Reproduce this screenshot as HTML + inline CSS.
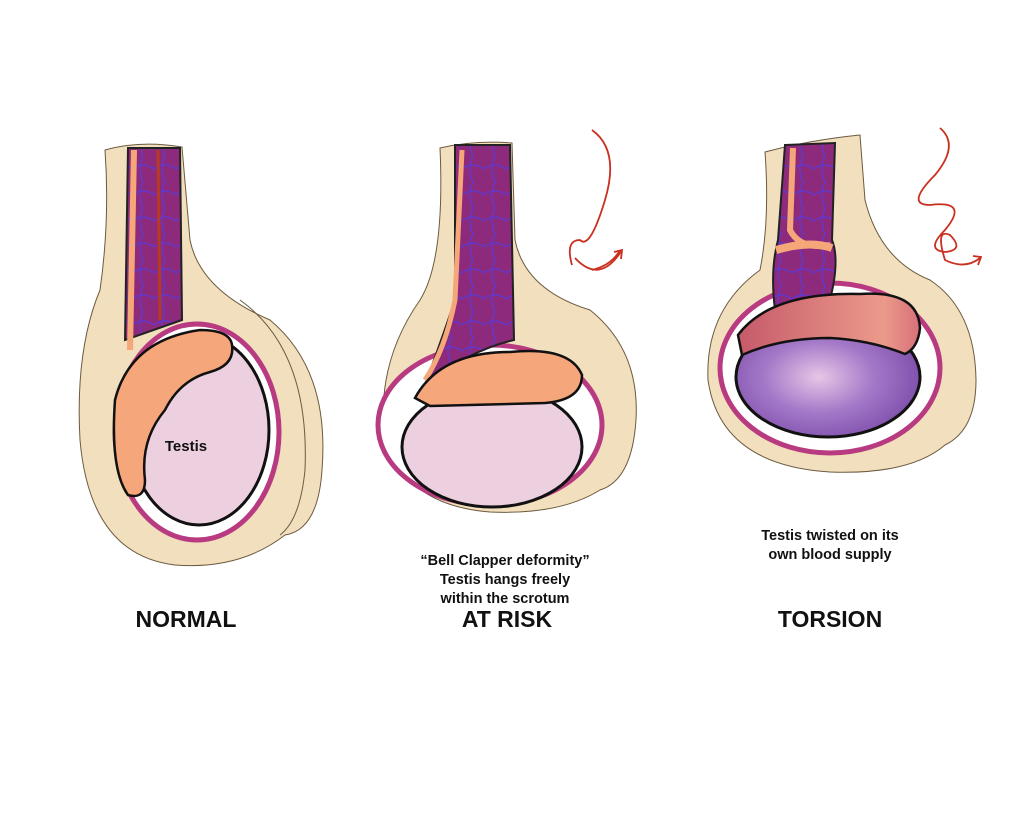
<!DOCTYPE html>
<html><head><meta charset="utf-8"><style>
html,body{margin:0;padding:0;background:#fff;}
svg{display:block}
text{font-family:"Liberation Sans",sans-serif;font-weight:bold;fill:#111}
</style></head><body>
<svg width="1024" height="814" viewBox="0 0 1024 814" xmlns="http://www.w3.org/2000/svg">
<defs>
<radialGradient id="pg" cx="0.45" cy="0.5" r="0.6">
<stop offset="0" stop-color="#e6c6e6"/><stop offset="0.5" stop-color="#a378c8"/><stop offset="1" stop-color="#7a4aa8"/></radialGradient>
<linearGradient id="rg" x1="0" x2="1"><stop offset="0" stop-color="#c65a6a"/><stop offset="0.8" stop-color="#eb9a8a"/><stop offset="1" stop-color="#d7707a"/></linearGradient>
<pattern id="vein" width="22" height="26" patternUnits="userSpaceOnUse">
<rect width="22" height="26" fill="#8e2a7c"/>
<path d="M0,13 Q11,5 22,13 M11,0 Q5,13 11,26" stroke="#5a3ad8" stroke-width="1.2" fill="none"/></pattern>
</defs>

<!-- NORMAL -->
<path d="M105,150 Q140,140 182,147 L190,240 Q200,290 270,320 Q330,370 322,470 Q318,530 285,535 Q240,570 175,565 Q90,555 80,440 Q75,350 100,290 Q110,220 105,150 Z" fill="#f2dfbd" stroke="#6b5a40" stroke-width="1"/>
<path d="M240,300 Q310,350 305,470 Q300,520 280,535" fill="none" stroke="#6b5a40" stroke-width="1"/>
<ellipse cx="197" cy="432" rx="82" ry="108" fill="#fff" stroke="#b83a80" stroke-width="5"/>
<path d="M128,148 L180,148 L182,320 L125,340 Z" fill="url(#vein)" stroke="#222" stroke-width="2"/>
<path d="M134,150 L130,350" stroke="#f5a77a" stroke-width="6"/>
<path d="M158,150 L160,320" stroke="#b83a20" stroke-width="3"/>
<ellipse cx="199" cy="430" rx="70" ry="95" fill="#ecd0e0" stroke="#111" stroke-width="3"/>
<path d="M128,495 Q110,470 115,400 Q130,340 200,330 Q230,330 232,345 Q235,365 210,372 Q180,380 165,410 Q140,440 145,480 Q145,500 128,495 Z" fill="#f5a67a" stroke="#111" stroke-width="2.5"/>
<text x="186" y="451" font-size="15" text-anchor="middle">Testis</text>

<!-- AT RISK -->
<path d="M440,148 Q475,140 512,143 L515,240 Q525,290 590,310 Q640,350 636,420 Q632,480 600,490 Q560,515 490,512 Q400,505 384,430 Q378,360 420,300 Q445,260 440,148 Z" fill="#f2dfbd" stroke="#6b5a40" stroke-width="1"/>
<ellipse cx="490" cy="425" rx="112" ry="80" fill="#fff" stroke="#b83a80" stroke-width="5"/>
<path d="M455,145 L510,145 L514,340 Q470,350 425,385 Q445,330 455,300 Z" fill="url(#vein)" stroke="#222" stroke-width="2"/>
<path d="M462,150 L455,300 Q445,350 425,380" stroke="#f5a77a" stroke-width="5" fill="none"/>
<ellipse cx="492" cy="447" rx="90" ry="60" fill="#ecd0e0" stroke="#111" stroke-width="3"/>
<path d="M415,398 Q440,352 510,352 Q570,346 582,375 Q582,400 545,403 L430,406 Z" fill="#f5a67a" stroke="#111" stroke-width="2.5"/>

<!-- TORSION -->
<path d="M765,152 Q810,140 860,135 L865,200 Q880,260 930,280 Q975,310 976,380 Q976,430 945,445 Q910,475 830,472 Q720,465 708,380 Q705,310 760,270 Q770,220 765,152 Z" fill="#f2dfbd" stroke="#6b5a40" stroke-width="1"/>
<ellipse cx="830" cy="368" rx="110" ry="85" fill="#fff" stroke="#b83a80" stroke-width="5"/>
<path d="M785,145 L835,143 L832,240 Q840,260 830,300 L775,310 Q770,270 778,240 Z" fill="url(#vein)" stroke="#222" stroke-width="2"/>
<path d="M793,148 L790,230 Q800,250 830,245" stroke="#f5a77a" stroke-width="6" fill="none"/>
<path d="M776,250 Q810,240 832,248" stroke="#f5a77a" stroke-width="8" fill="none"/>
<ellipse cx="828" cy="377" rx="92" ry="60" fill="url(#pg)" stroke="#111" stroke-width="3"/>
<path d="M738,335 Q770,292 860,294 Q918,290 920,328 Q918,348 905,354 Q870,340 830,338 Q780,338 742,355 Z" fill="url(#rg)" stroke="#111" stroke-width="2.5"/>

<!-- arrows -->
<g fill="none" stroke="#c93020" stroke-width="1.8">
<path d="M592,130 Q620,150 605,200 Q590,250 580,240 Q565,240 572,265 M592,270 Q612,265 620,250"/>
<path d="M575,258 Q600,285 622,250"/><path d="M614,252 L622,250 L621,259"/>
<path d="M940,128 Q960,145 935,175 Q905,205 930,205 Q970,200 945,230 Q925,250 945,252 Q965,250 950,235 Q935,228 945,260 Q965,270 980,258"/>
<path d="M973,256 L981,257 L978,265"/>
</g>

<text x="505" y="565" font-size="14.5" text-anchor="middle">“Bell Clapper deformity”</text>
<text x="505" y="584" font-size="14.5" text-anchor="middle">Testis hangs freely</text>
<text x="505" y="603" font-size="14.5" text-anchor="middle">within the scrotum</text>
<text x="830" y="540" font-size="14.5" text-anchor="middle">Testis twisted on its</text>
<text x="830" y="559" font-size="14.5" text-anchor="middle">own blood supply</text>
<text x="186" y="627" font-size="23" text-anchor="middle">NORMAL</text>
<text x="507" y="627" font-size="23" text-anchor="middle">AT RISK</text>
<text x="830" y="627" font-size="23" text-anchor="middle">TORSION</text>
</svg>
</body></html>
